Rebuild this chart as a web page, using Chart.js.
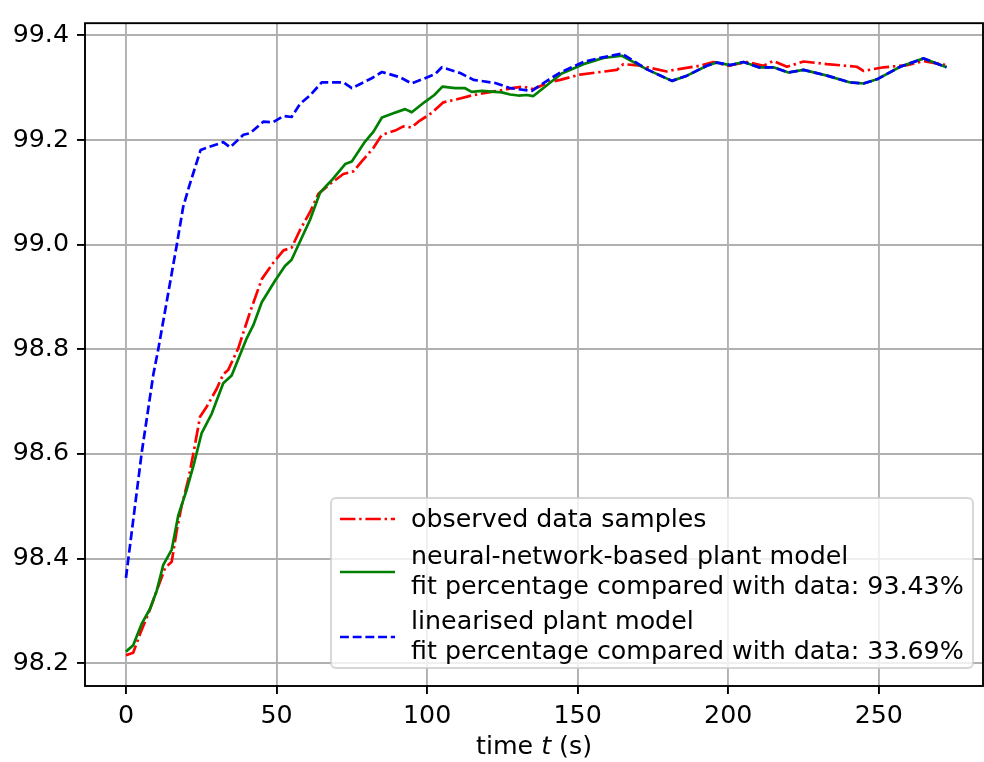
<!DOCTYPE html>
<html>
<head>
<meta charset="utf-8">
<script src="https://cdn.jsdelivr.net/npm/chart.js@4.4.0/dist/chart.umd.min.js"></script>
<style>body{margin:0;background:#fff}</style>
</head>
<body>
<canvas id="myChart" width="984" height="762"></canvas>
<script>
// observed data samples
var observedT = [0, 2.4, 4.7, 7.4, 10.2, 13.0, 15.2, 16.8, 18.5, 20.7, 22.4, 24.6, 26.8, 30.1, 32.3, 34.0, 37.3, 41.2, 45.1, 48.9,
  52.3, 55.0, 57.8, 61.1, 63.9, 67.8, 72.2, 75.5, 78.3, 82.2, 85.0, 89.4, 92.1, 94.9, 97.1, 101.6, 105.4, 109.3, 114.8, 119.3,
  123.7, 128.1, 132.0, 135.3, 140.3, 144.2, 150.8, 163.0, 165.2, 170.8, 179.6, 181.9, 190.7, 195.1, 200.1, 206.2, 211.7, 215.0,
  219.5, 225.0, 232.8, 242.7, 244.9, 251.6, 259.4, 264.9, 272.5];
var observedY = [98.215, 98.220, 98.256, 98.294, 98.338, 98.382, 98.394, 98.451, 98.501, 98.551, 98.601, 98.671, 98.690, 98.724, 98.752,
  98.761, 98.802, 98.871, 98.934, 98.965, 98.989, 98.994, 99.028, 99.062, 99.097, 99.116, 99.135, 99.140, 99.159, 99.185,
  99.210, 99.218, 99.226, 99.224, 99.235, 99.252, 99.272, 99.277, 99.285, 99.290, 99.294, 99.299, 99.302, 99.297, 99.310,
  99.315, 99.325, 99.334, 99.345, 99.342, 99.331, 99.334, 99.342, 99.349, 99.342, 99.349, 99.342, 99.351, 99.340, 99.350,
  99.345, 99.340, 99.332, 99.339, 99.343, 99.351, 99.343];

// neural-network-based plant model
var neuralT = [0, 2.4, 5.2, 8.0, 10.2, 12.4, 15.2, 17.4, 20.2, 22.4, 25.1, 28.5, 32.3, 35.1, 40.1, 42.3, 45.1, 49.5, 52.8, 55.0,
  61.1, 64.5, 68.3, 72.8, 75.0, 79.4, 82.2, 85.0, 88.8, 92.7, 94.9, 99.3, 102.4, 105.1, 109.3, 112.6, 114.8, 118.2, 124.8, 127.6,
  130.3, 133.1, 135.3, 140.3, 144.7, 151.9, 158.6, 164.7, 173.0, 181.3, 186.3, 192.9, 196.2, 200.7, 205.1, 210.1, 215.0, 220.0,
  225.0, 232.8, 240.5, 244.9, 249.4, 257.1, 264.9, 272.5];
var neuralY = [98.222, 98.234, 98.275, 98.304, 98.338, 98.388, 98.417, 98.483, 98.532, 98.577, 98.639, 98.677, 98.735, 98.750, 98.821,
  98.846, 98.890, 98.931, 98.959, 98.971, 99.047, 99.100, 99.123, 99.154, 99.159, 99.197, 99.216, 99.243, 99.251, 99.259,
  99.253, 99.273, 99.286, 99.302, 99.299, 99.299, 99.292, 99.294, 99.291, 99.287, 99.285, 99.286, 99.284, 99.307, 99.327,
  99.345, 99.357, 99.361, 99.335, 99.313, 99.323, 99.342, 99.348, 99.343, 99.349, 99.339, 99.339, 99.329, 99.334, 99.323,
  99.310, 99.308, 99.316, 99.340, 99.356, 99.339];

// linearised plant model
var linearT = [0, 5.2, 9.1, 10.7, 16.8, 19.0, 20.9, 24.8, 32.3, 34.6, 39.0, 41.2, 45.6, 48.9, 52.3, 55.0, 57.8, 61.1, 65.0, 72.2,
  75.0, 81.6, 85.0, 91.0, 94.9, 102.7, 104.9, 111.0, 115.4, 122.6, 127.6, 134.8, 140.3, 144.2, 151.9, 157.5, 164.7, 173.0, 181.3,
  186.3, 192.9, 196.2, 200.7, 205.1, 210.1, 215.0, 220.0, 225.0, 232.8, 240.5, 244.9, 249.4, 257.1, 264.9, 272.5];
var linearY = [98.363, 98.601, 98.752, 98.799, 98.997, 99.072, 99.110, 99.181, 99.196, 99.186, 99.210, 99.213, 99.235, 99.234, 99.246,
  99.244, 99.269, 99.285, 99.310, 99.310, 99.299, 99.318, 99.330, 99.320, 99.308, 99.326, 99.339, 99.328, 99.315, 99.309,
  99.299, 99.294, 99.315, 99.329, 99.349, 99.357, 99.365, 99.335, 99.313, 99.323, 99.342, 99.348, 99.343, 99.349, 99.339,
  99.339, 99.329, 99.334, 99.323, 99.310, 99.308, 99.316, 99.340, 99.356, 99.339];

var xTicks = [0, 50, 100, 150, 200, 250];
var yTicks = [98.2, 98.4, 98.6, 98.8, 99.0, 99.2, 99.4];
var legendLabels = [
  ['observed data samples'],
  ['neural-network-based plant model', 'fit percentage compared with data: 93.43%'],
  ['linearised plant model', 'fit percentage compared with data: 33.69%']
];

var FONT = 'DejaVu Sans';
var FS = 25.3;
var LW = 2.7;

function pts(ts, ys) {
  return ts.map(function (t, i) { return { x: t, y: ys[i] }; });
}

var extras = {
  id: 'extras',
  afterDraw: function (chart) {
    var c = chart.ctx, a = chart.chartArea;
    c.save();
    // axes frame
    c.strokeStyle = '#000';
    c.lineWidth = 1.9;
    c.strokeRect(a.left, a.top, a.right - a.left, a.bottom - a.top);

    // legend box
    var bx = 331, by = 498, bw = 642, bh = 170;
    c.beginPath();
    c.roundRect(bx, by, bw, bh, 5);
    c.fillStyle = 'rgba(255,255,255,0.8)';
    c.fill();
    c.strokeStyle = 'rgba(204,204,204,0.8)';
    c.lineWidth = 1.9;
    c.stroke();

    var styles = [
      { color: '#ff0000', dash: [15.4, 3.8, 2.4, 3.8], y: 519, rows: [520] },
      { color: '#008000', dash: [], y: 572, rows: [557, 587] },
      { color: '#0000ff', dash: [8.9, 3.8], y: 637, rows: [622, 652] }
    ];
    c.font = FS + 'px "' + FONT + '"';
    c.textBaseline = 'middle';
    c.textAlign = 'left';
    styles.forEach(function (s, i) {
      c.beginPath();
      c.setLineDash(s.dash);
      c.strokeStyle = s.color;
      c.lineWidth = LW;
      c.lineCap = 'butt';
      c.moveTo(340, s.y);
      c.lineTo(395, s.y);
      c.stroke();
      c.setLineDash([]);
      c.fillStyle = '#000';
      legendLabels[i].forEach(function (line, j) {
        c.fillText(line, 411, s.rows[j]);
      });
    });

    // x axis title with italic t
    var parts = [['time ', ''], ['t', 'italic '], [' (s)', '']];
    var total = 0;
    parts.forEach(function (p) {
      c.font = p[1] + FS + 'px "' + FONT + '"';
      total += c.measureText(p[0]).width;
    });
    var x = (a.left + a.right) / 2 - total / 2;
    parts.forEach(function (p) {
      c.font = p[1] + FS + 'px "' + FONT + '"';
      c.fillText(p[0], x, 747);
      x += c.measureText(p[0]).width;
    });
    c.restore();
  }
};

var ctx = document.getElementById('myChart').getContext('2d');
var myChart = new Chart(ctx, {
  type: 'line',
  data: {
    datasets: [{
      label: legendLabels[0][0],
      data: pts(observedT, observedY),
      borderColor: '#ff0000',
      borderDash: [15.4, 3.8, 2.4, 3.8],
      order: 3
    }, {
      label: legendLabels[1][0],
      data: pts(neuralT, neuralY),
      borderColor: '#008000',
      order: 2
    }, {
      label: legendLabels[2][0],
      data: pts(linearT, linearY),
      borderColor: '#0000ff',
      borderDash: [8.9, 3.8],
      order: 1
    }]
  },
  options: {
    responsive: false,
    animation: false,
    devicePixelRatio: 1,
    layout: { padding: { top: 13, right: 1, left: 0, bottom: 0 } },
    elements: {
      point: { radius: 0 },
      line: { borderWidth: LW, tension: 0, fill: false, borderJoinStyle: 'round', borderCapStyle: 'butt' }
    },
    plugins: { legend: { display: false }, tooltip: { enabled: false } },
    scales: {
      x: {
        type: 'linear',
        min: -13.6,
        max: 284.6,
        afterBuildTicks: function (s) { s.ticks = xTicks.map(function (v) { return { value: v }; }); },
        afterFit: function (s) { s.height = 76; },
        border: { display: false },
        grid: { color: '#b0b0b0', lineWidth: 1.9, tickColor: '#000', tickLength: 8, tickWidth: 1.9 },
        ticks: {
          color: '#000', padding: 7, maxRotation: 0,
          font: { family: FONT, size: FS },
          callback: function (v) { return String(v); }
        }
      },
      y: {
        min: 98.1563,
        max: 99.4233,
        afterBuildTicks: function (s) { s.ticks = yTicks.map(function (v) { return { value: v }; }); },
        afterFit: function (s) { s.width = 85; },
        border: { display: false },
        grid: { color: '#b0b0b0', lineWidth: 1.9, tickColor: '#000', tickLength: 8, tickWidth: 1.9 },
        ticks: {
          color: '#000', padding: 8,
          font: { family: FONT, size: FS },
          callback: function (v) { return v.toFixed(1); }
        }
      }
    }
  },
  plugins: [extras]
});
</script>
</body>
</html>
